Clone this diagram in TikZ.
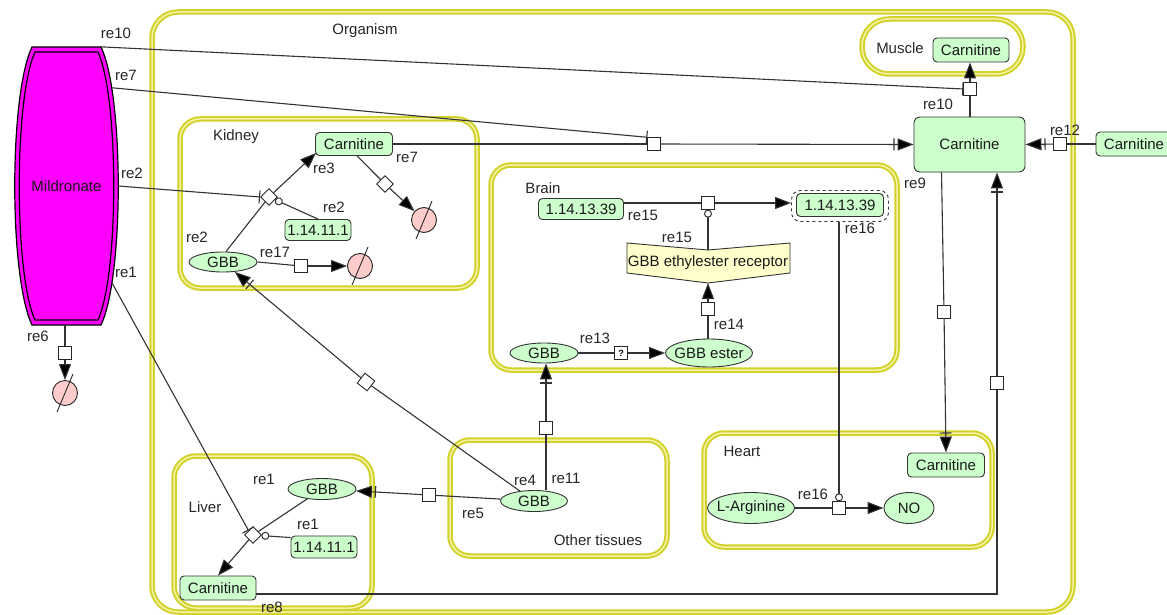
\documentclass[tikz,border=0pt]{standalone}
\usepackage{fontspec}
\setmainfont{Liberation Sans}
\usetikzlibrary{arrows.meta,shapes.geometric,calc}

\definecolor{spfill}{HTML}{CCFFCC}
\definecolor{degfill}{HTML}{FFCCCC}
\definecolor{recfill}{HTML}{FFFFCC}
\definecolor{cyel}{HTML}{D2D22A}
\definecolor{cpale}{HTML}{F2F2A8}
\definecolor{lncol}{HTML}{333333}
\definecolor{drugfill}{HTML}{FF00FF}

% zero-width text so that ellipses keep their given size
\newcommand\zw[1]{\makebox[0pt]{#1}}
% double-banded compartment outline
\newcommand\compbox[3]{%
  \draw[compA=#3] #1 rectangle #2;
  \draw[compB=#3] #1 rectangle #2;}

\tikzset{
  compA/.style={draw=cyel, line width=5.5pt, rounded corners=#1},
  compB/.style={draw=cpale, line width=1.5pt, rounded corners=#1},
  sp/.style={draw=black!80, fill=spfill, line width=0.9pt, rounded corners=4pt, inner sep=0pt, text=black!90},
  spe/.style={draw=black!80, fill=spfill, line width=0.9pt, ellipse, inner sep=0pt, text=black!90},
  rsq/.style={draw=black!85, fill=white, line width=0.9pt, rectangle, minimum size=12.5pt, inner sep=0pt},
  rdia/.style={draw=black!85, fill=white, line width=0.9pt, diamond, minimum size=17pt, inner sep=0pt},
  deg/.style={draw=black!85, fill=degfill, line width=0.9pt, circle, minimum size=25pt, inner sep=0pt},
  lab/.style={inner sep=0pt, text=black!85},
  ln/.style={draw=lncol, line width=1.1pt},
  prod/.style={-{Triangle[length=16pt,width=12pt,fill=black]}},
  trans/.style={-{Bar[width=12pt,sep=3pt]Triangle[length=16pt,width=12pt,fill=black]}},
  inhib/.style={-{Bar[width=13pt]}},
  catal/.style={-{Circle[fill=white,length=8pt,line width=1pt]}},
}

\begin{document}
\begin{tikzpicture}[x=1pt,y=-1pt,font=\fontsize{15}{17}\selectfont]
\useasboundingbox (0,0) rectangle (1167,615);

% ---------- compartments ----------
\compbox{(152,12)}{(1073,612)}{26pt}
\compbox{(862,19)}{(1023,74)}{27pt}
\compbox{(180,119)}{(477,288)}{20pt}
\compbox{(491,165)}{(897,370)}{20pt}
\compbox{(174,456)}{(372,608)}{22pt}
\compbox{(450,440)}{(667,556)}{20pt}
\compbox{(704,433)}{(992,547)}{20pt}

\node[lab] (tOrg) at (365,31) {Organism};
\node[lab] (tMus) at (900,48) {Muscle};
\node[lab] (tKid) at (236,137) {Kidney};
\node[lab] (tBra) at (543,188) {Brain};
\node[lab] (tLiv) at (205,507) {Liver};
\node[lab] (tOth) at (598,540) {Other tissues};
\node[lab] (tHea) at (742,451) {Heart};

% ---------- drug ----------
\fill[drugfill] (32,47) -- (101,47) .. controls (124,95) and (124,277) .. (101,325)
  -- (32,325) .. controls (9,277) and (9,95) .. (32,47) -- cycle;
\draw[line width=1.2pt] (32,47) -- (101,47) .. controls (124,95) and (124,277) .. (101,325)
  -- (32,325) .. controls (9,277) and (9,95) .. (32,47) -- cycle;
\draw[line width=1.2pt] (35,52) -- (98,52) .. controls (119,98) and (119,274) .. (98,320)
  -- (35,320) .. controls (14,274) and (14,98) .. (35,52) -- cycle;
\node[inner sep=0pt,minimum width=103pt,minimum height=278pt,text=black!90] (mil) at (66.5,186) {Mildronate};

% ---------- species ----------
% kidney
\node[sp,minimum width=77pt,minimum height=23pt] (kC) at (354,144) {Carnitine};
\node[sp,minimum width=66pt,minimum height=21pt] (kE) at (318,230) {1.14.11.1};
\node[spe,minimum width=68pt,minimum height=20pt] (kG) at (223,262) {\zw{GBB}};
% brain
\node[sp,minimum width=85pt,minimum height=21pt] (bE1) at (581,209) {1.14.13.39};
\node[draw=black!80, dashed, line width=0.9pt, rounded corners=9pt, minimum width=97pt, minimum height=31pt] (bE2o) at (840,206) {};
\node[sp,minimum width=87pt,minimum height=23pt] (bE2) at (840,205) {1.14.13.39};
\filldraw[fill=recfill, draw=black!80, line width=0.9pt]
  (627,243) -- (708,250) coordinate (rTop) -- (790,243) -- (790,273)
  -- (708,283) coordinate (rBot) -- (627,273) -- cycle;
\node[inner sep=0pt,text=black!90] (rec) at (708,263) {GBB ethylester receptor};
\node[spe,minimum width=87pt,minimum height=28pt] (eE) at (709,353) {\zw{GBB ester}};
\node[spe,minimum width=68pt,minimum height=20pt] (bG) at (544,353) {\zw{GBB}};
% whole body
\node[sp,minimum width=111pt,minimum height=55pt,rounded corners=6pt] (cC) at (969.5,144.5) {Carnitine};
\node[sp,minimum width=76pt,minimum height=24pt] (mC) at (971,50) {Carnitine};
\node[sp,minimum width=76pt,minimum height=24pt] (xC) at (1134,144) {Carnitine};
% other tissues
\node[spe,minimum width=67pt,minimum height=21pt] (oG) at (534,501) {\zw{GBB}};
% liver
\node[spe,minimum width=68pt,minimum height=21pt] (lG) at (322,489) {\zw{GBB}};
\node[sp,minimum width=66pt,minimum height=22pt] (lE) at (324,547) {1.14.11.1};
\node[sp,minimum width=76pt,minimum height=24pt] (lC) at (218,588) {Carnitine};
% heart
\node[sp,minimum width=77pt,minimum height=24pt] (hC) at (946,465) {Carnitine};
\node[spe,minimum width=87pt,minimum height=31pt] (hL) at (751,508) {\zw{L-Arginine}};
\node[spe,minimum width=50pt,minimum height=31pt] (hN) at (909,508) {\zw{NO}};

% ---------- process nodes ----------
\node[rsq] (s6) at (65,353) {};
\node[deg] (d6) at (65,393) {};
\node[rdia] (kD) at (269,197) {};
\node[rsq] (k17) at (301,266) {};
\node[deg] (kX17) at (360,266) {};
\node[rdia] (kD7) at (385,184) {};
\node[deg] (kX7) at (424,220) {};
\node[rsq] (s7) at (654,144) {};
\node[rsq] (s10) at (970,89) {};
\node[rsq] (s12) at (1060,144) {};
\node[rsq] (s9) at (944,312) {};
\node[rsq] (s8) at (997,383) {};
\coordinate (b8) at (997,594);
\node[rsq] (s15) at (708,203) {};
\node[rsq] (s14) at (708,309) {};
\node[rsq,font=\bfseries\fontsize{9}{9}\selectfont] (s13) at (621,353) {?};
\node[rsq] (s11) at (546,428) {};
\node[rsq,rotate=-38] (s4) at (366,382) {};
\node[rsq] (s5) at (429,495) {};
\node[rdia] (lD) at (253,535) {};
\node[rsq] (s16) at (839,508) {};

% degradation slashes
\foreach \d in {d6,kX17,kX7}
  \draw[line width=0.9pt,black!85] ($(\d)+(-8,19)$) -- ($(\d)+(8,-19)$);

% ---------- reactions ----------
% re6
\draw[ln] (mil.south -| s6) -- (s6);
\draw[ln,prod] (s6) -- (d6);
% re2 (kidney)
\draw[ln] ($(kG.north)+(3,0)$) -- (kD);
\draw[ln,prod] (kD) -- ($(kC.south west)+(1,-3)$);
\draw[ln,catal] (kE.north) -- (kD);
\draw[ln,inhib] (mil.east) -- (kD.west);
% re17
\draw[ln] (kG.east) -- (k17);
\draw[ln,prod] (k17) -- (kX17);
% re3
\draw[ln] ($(kC.south)+(3,0)$) -- (kD7);
\draw[ln,prod] (kD7) -- (kX7);
% re7
\draw[ln] (kC.east) -- (s7);
\draw[ln,trans] (s7) -- (cC.west);
\draw[ln,inhib] ($(mil.north east)+(-6,41)$) -- (s7.north west);
% re10
\draw[ln] (cC.north -| s10) -- (s10);
\draw[ln,prod] (s10) -- (s10 |- mC.south);
\draw[ln,inhib] ($(mil.north east)+(-18,0)$) -- (s10.west);
% re12
\draw[ln] (xC.west) -- (s12);
\draw[ln,trans] (s12) -- (cC.east);
% re9
\draw[ln] ($(cC.south)+(-28,0)$) -- (s9);
\draw[ln,trans] (s9) -- (hC.north);
% re8
\draw[ln] (lC.east |- b8) -- (b8) -- (s8);
\draw[ln,trans] (s8) -- (s8 |- cC.south);
% re15
\draw[ln] (bE1.east |- s15) -- (s15);
\draw[ln,prod] (s15) -- (bE2o.west |- s15);
\draw[ln,catal] (rTop) -- (s15.south);
% re14
\draw[ln] (eE.north -| s14) -- (s14);
\draw[ln,prod] (s14) -- (rBot);
% re13
\draw[ln] (bG.east) -- (s13);
\draw[ln,prod] (s13) -- (eE.west |- s13);
% re11
\draw[ln] (oG.north -| s11) -- (s11);
\draw[ln,trans] (s11) -- (s11 |- bG.south);
% re4
\draw[ln] (oG) -- (s4);
\draw[ln,trans] (s4) -- (kG);
% re5
\draw[ln] (oG) -- (s5);
\draw[ln,trans] (s5) -- (lG);
% re1 (liver)
\draw[ln] (lG) -- (lD);
\draw[ln,prod] (lD) -- (lC.north);
\draw[ln,catal] ($(lE.north west)+(0,2)$) -- (lD);
\draw[ln,inhib] ($(mil.south east)+(-6,-42)$) -- (lD.north west);
% re16
\draw[ln] (hL.east) -- (s16);
\draw[ln,prod] (s16) -- (hN.west);
\draw[ln,catal] (bE2o.south -| s16) -- (s16.north);

% ---------- reaction labels ----------
\node[lab] (a1) at (116,33) {re10};
\node[lab] (a2) at (126,75) {re7};
\node[lab] (a3) at (132,173) {re2};
\node[lab] (a4) at (126,272) {re1};
\node[lab] (a5) at (38,336) {re6};
\node[lab] (a6) at (324,168) {re3};
\node[lab] (a7) at (407,157) {re7};
\node[lab] (a8) at (334,207) {re2};
\node[lab] (a9) at (197,237) {re2};
\node[lab] (a10) at (275,252) {re17};
\node[lab] (a11) at (938,104) {re10};
\node[lab] (a12) at (1065,130) {re12};
\node[lab] (a13) at (915,183) {re9};
\node[lab] (a14) at (643,215) {re15};
\node[lab] (a15) at (677,237) {re15};
\node[lab] (a16) at (860,228) {re16};
\node[lab] (a17) at (729,324) {re14};
\node[lab] (a18) at (595,338) {re13};
\node[lab] (a19) at (525,480) {re4};
\node[lab] (a20) at (566,478) {re11};
\node[lab] (a21) at (473,513) {re5};
\node[lab] (a22) at (264,479) {re1};
\node[lab] (a23) at (308,524) {re1};
\node[lab] (a24) at (272,607) {re8};
\node[lab] (a25) at (813,494) {re16};
\end{tikzpicture}
\end{document}
